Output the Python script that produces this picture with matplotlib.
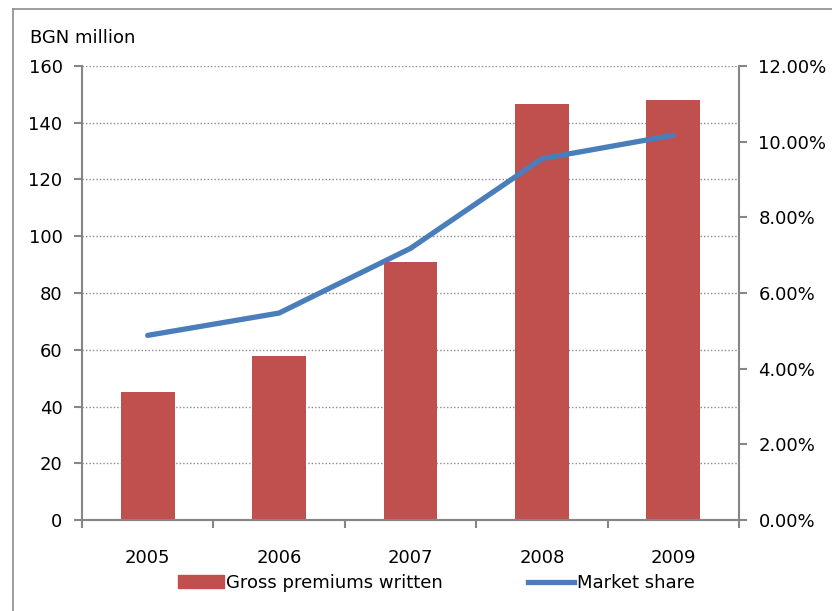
import matplotlib
matplotlib.use("Agg")
import matplotlib.pyplot as plt
from matplotlib.lines import Line2D
from matplotlib.patches import Patch
from matplotlib.ticker import FuncFormatter

years = ["2005", "2006", "2007", "2008", "2009"]
premiums = [45.1, 57.8, 90.8, 146.5, 148.0]
market_share = [4.88, 5.47, 7.18, 9.55, 10.17]

plt.rcParams['font.family'] = ['DejaVu Sans']
FS = 13
W, H = 832, 611
fig = plt.figure(figsize=(W / 100, H / 100), dpi=100)
ax = fig.add_axes([82 / W, 1 - 520 / H, (739 - 82) / W, (520 - 66) / H])
ax2 = ax.twinx()

spine_c = "#868686"
x = list(range(len(years)))
ax.bar(x, premiums, width=0.41, color="#C0504D", zorder=2)
ax.set_xlim(-0.5, len(years) - 0.5)
ax.set_ylim(0, 160)
ax.set_yticks(range(0, 161, 20))
ax.yaxis.grid(True, linestyle=(0, (1, 1.5)), color="#8c8c8c", linewidth=1.0, zorder=0)
ax.set_axisbelow(True)
ax.set_xticks([i - 0.5 for i in range(len(years) + 1)])
ax.set_xticklabels([])
ax.set_xticks(x, minor=True)
ax.set_xticklabels(years, minor=True, fontsize=FS)
ax.tick_params(axis='x', which='minor', length=0, pad=21)
ax.tick_params(axis='x', which='major', length=6, color=spine_c, width=1.5, direction='out')
ax.tick_params(axis='y', length=6, color=spine_c, width=1.5, labelsize=FS, pad=8)

ax2.plot(x, market_share, color="#4A7EBB", linewidth=3.8, solid_capstyle='round', zorder=3)
ax2.set_ylim(0, 12)
ax2.set_yticks(range(0, 13, 2))
ax2.yaxis.set_major_formatter(FuncFormatter(lambda v, p: f"{v:.2f}%"))
ax2.tick_params(axis='y', length=6, color=spine_c, width=1.5, labelsize=FS, pad=8)

for a in (ax, ax2):
    a.spines['top'].set_visible(False)
    for s in ('left', 'right', 'bottom'):
        a.spines[s].set_color(spine_c)
        a.spines[s].set_linewidth(1.5)
ax.spines['right'].set_visible(False)
ax2.spines['left'].set_visible(False)

fig.text(30 / W, 1 - 38 / H, "BGN million", fontsize=FS, va='center', ha='left')

handles = [Patch(color="#C0504D", label="Gross premiums written"),
           Line2D([0], [0], color="#4A7EBB", linewidth=3.8, label="Market share")]
fig.legend(handles=handles, loc='center', bbox_to_anchor=(436 / W, 1 - 583 / H), ncol=2,
           frameon=False, fontsize=FS, handlelength=2.55, handletextpad=0.15, columnspacing=4.7)

# outer frame
fig.add_artist(Line2D([13 / W, 1], [1 - 9 / H, 1 - 9 / H], color="#8c8c8c", linewidth=1.2, transform=fig.transFigure))
fig.add_artist(Line2D([13 / W, 13 / W], [0, 1 - 9 / H], color="#8c8c8c", linewidth=1.2, transform=fig.transFigure))

fig.savefig("out.png", dpi=100)
